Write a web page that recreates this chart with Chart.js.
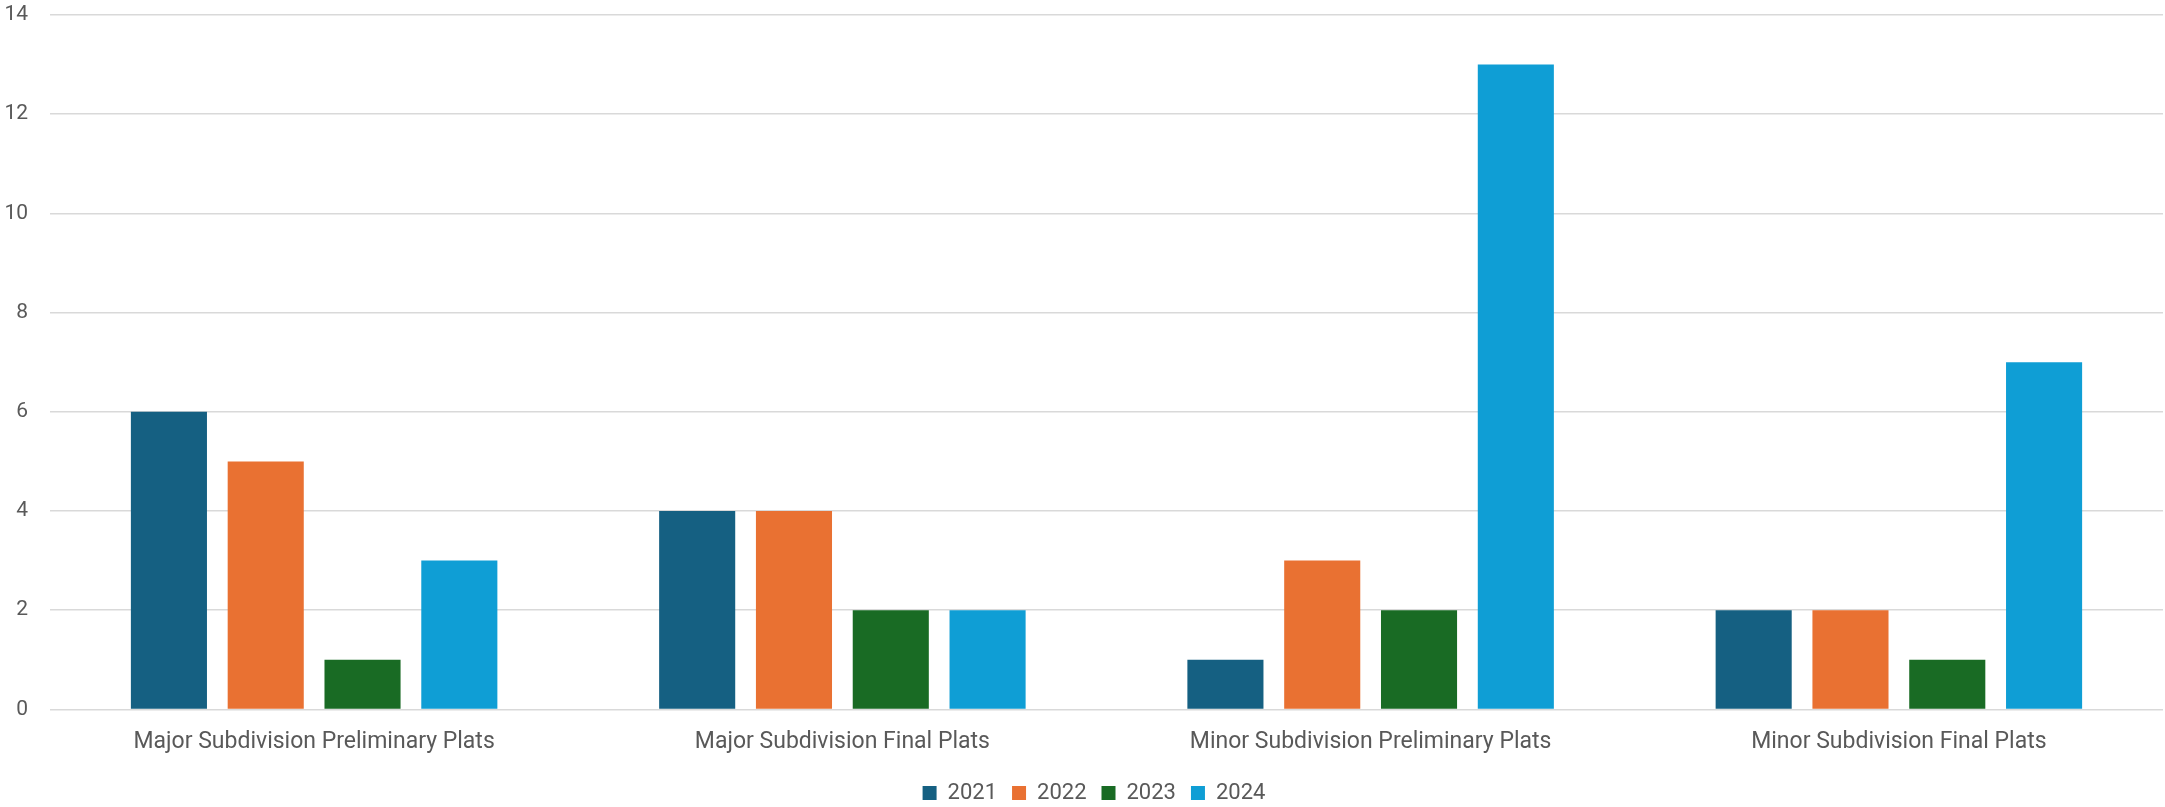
<!DOCTYPE html>
<html>
<head>
<meta charset="utf-8">
<script src="https://cdn.jsdelivr.net/npm/chart.js@4"></script>
<style>
  html, body { margin: 0; padding: 0; background: #fff; }
  #wrap { width: 2165px; height: 807px; }
</style>
</head>
<body>
<div id="wrap"><canvas id="myChart"></canvas></div>
<script>
const categories = ['Major Subdivision Preliminary Plats', 'Major Subdivision Final Plats', 'Minor Subdivision Preliminary Plats', 'Minor Subdivision Final Plats'];
const years = ['2021', '2022', '2023', '2024'];
const v2021 = [6, 4, 1, 2];
const v2022 = [5, 4, 3, 2];
const v2023 = [1, 2, 2, 1];
const v2024 = [3, 2, 13, 7];
const colors = ['#156082', '#E97132', '#196B24', '#0F9ED5'];

const series = [v2021, v2022, v2023, v2024];
const textColor = '#595959';

// center the legend under the plot area and pull it up a little
const legendShift = {
    id: 'legendShift',
    afterLayout(chart) {
        const lg = chart.legend;
        const dx = (chart.chartArea.left + chart.chartArea.right) / 2 - (lg.left + lg.right) / 2;
        lg.left += dx / 2;
        lg.right += dx / 2;
        lg.top -= 8;
        lg.bottom -= 8;
    }
};

const ctx = document.getElementById('myChart').getContext('2d');
const myChart = new Chart(ctx, {
    type: 'bar',
    data: {
        labels: categories,
        datasets: series.map((d, i) => ({
            label: years[i],
            data: d,
            backgroundColor: colors[i],
            borderWidth: 0,
            categoryPercentage: 0.733,
            barPercentage: 0.786
        }))
    },
    plugins: [legendShift],
    options: {
        responsive: true,
        maintainAspectRatio: false,
        animation: false,
        layout: { padding: { top: 15, right: 2, bottom: -15 } },
        plugins: {
            tooltip: { enabled: false },
            legend: {
                position: 'bottom',
                labels: {
                    color: textColor,
                    font: { family: 'Roboto', size: 22 },
                    boxWidth: 14,
                    boxHeight: 14,
                    padding: 15
                }
            }
        },
        scales: {
            x: {
                grid: { display: false, drawTicks: false },
                border: { display: false },
                ticks: {
                    color: textColor,
                    font: { family: 'Roboto', size: 23 },
                    padding: 19,
                    maxRotation: 0
                }
            },
            y: {
                min: 0,
                max: 14,
                afterFit: (s) => { s.width = 50; s.paddingTop = 0; s.paddingBottom = 0; },
                grid: { color: '#d9d9d9', lineWidth: 1.5, drawTicks: false },
                border: { display: false },
                ticks: {
                    stepSize: 2,
                    color: textColor,
                    font: { family: 'Roboto', size: 21 },
                    padding: 22
                }
            }
        }
    }
});
</script>
</body>
</html>
